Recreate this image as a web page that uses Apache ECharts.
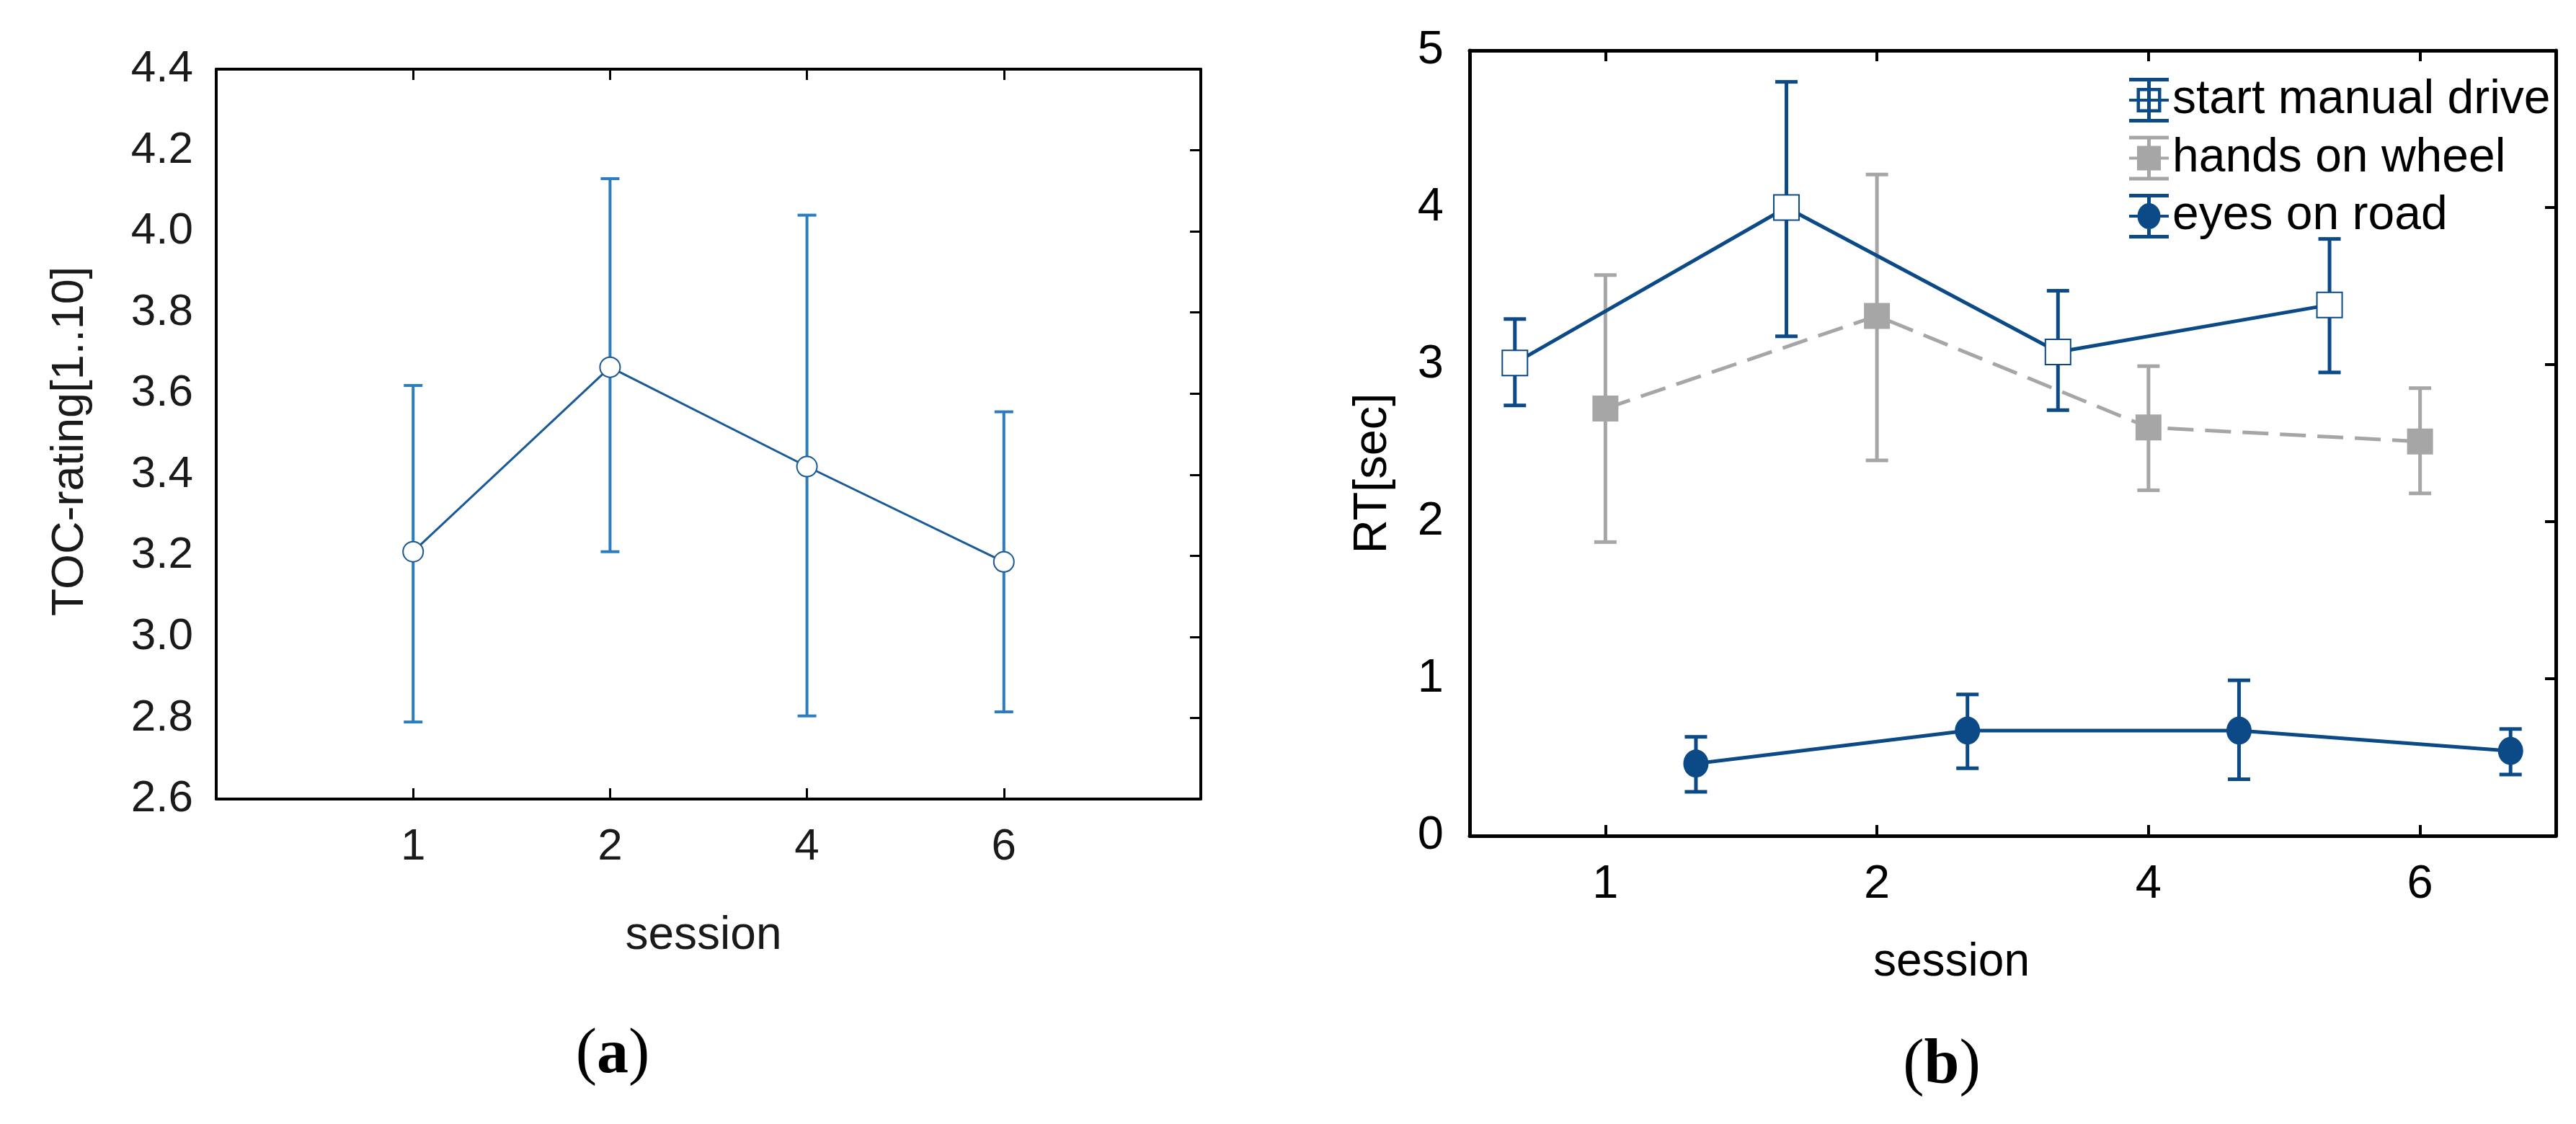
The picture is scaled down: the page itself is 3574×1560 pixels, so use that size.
<!DOCTYPE html>
<html>
<head>
<meta charset="utf-8">
<script src="https://cdn.jsdelivr.net/npm/echarts@6/dist/echarts.min.js"></script>
<style>
  html, body { margin: 0; padding: 0; background: #fff; }
  #main { width: 3574px; height: 1560px; }
</style>
</head>
<body>
<div id="main"></div>
<script>
// session categories (x axis tick labels)
var sessions = ['1', '2', '4', '6'];

// (a) TOC-rating: mean and interval ends
var tocMean = [3.21, 3.665, 3.42, 3.185];
var tocLow = [2.79, 3.21, 2.805, 2.815];
var tocHigh = [3.62, 4.13, 4.04, 3.555];

// (b) RT[sec]
var startMean = [3.01, 4.0, 3.08, 3.38];
var startLow = [2.74, 3.18, 2.71, 2.95];
var startHigh = [3.29, 4.8, 3.47, 3.8];

var handsMean = [2.72, 3.31, 2.6, 2.51];
var handsLow = [1.87, 2.39, 2.2, 2.18];
var handsHigh = [3.57, 4.21, 2.99, 2.85];

var eyesMean = [0.46, 0.67, 0.67, 0.54];
var eyesLow = [0.28, 0.43, 0.36, 0.39];
var eyesHigh = [0.63, 0.9, 0.99, 0.68];

var seriesNames = ['start manual drive', 'hands on wheel', 'eyes on road'];

var SANS = "'Liberation Sans', Arial, sans-serif";
var SERIF = "'Liberation Serif', 'Times New Roman', serif";
var BLUE = '#0b4a86';
var GREY = '#a6a6a6';
var LBLUE = '#2c7cc0';
var LDARK = '#1a5a97';

// points are shifted sideways within a session like the original plot
function points(means, offset) {
  return means.map(function (m, i) { return [i + 1 + offset, m]; });
}

function errorBars(name, axisIdx, lows, highs, offset, color, lw, capW) {
  return {
    name: name,
    type: 'custom',
    xAxisIndex: axisIdx[0],
    yAxisIndex: axisIdx[1],
    z: 3,
    encode: { x: 0, y: [1, 2] },
    data: lows.map(function (lo, i) { return [i + 1 + offset, lo, highs[i]]; }),
    renderItem: function (params, api) {
      var top = api.coord([api.value(0), api.value(2)]);
      var bot = api.coord([api.value(0), api.value(1)]);
      var hw = capW / 2;
      var st = { stroke: color, lineWidth: lw };
      return {
        type: 'group',
        children: [
          { type: 'line', shape: { x1: top[0], y1: top[1], x2: bot[0], y2: bot[1] }, style: st },
          { type: 'line', shape: { x1: top[0] - hw, y1: top[1], x2: top[0] + hw, y2: top[1] }, style: st },
          { type: 'line', shape: { x1: bot[0] - hw, y1: bot[1], x2: bot[0] + hw, y2: bot[1] }, style: st }
        ]
      };
    }
  };
}

function xAxes(grid, min, max, pos, lw, fs, margin, color, name) {
  var ax = {
    gridIndex: grid, type: 'value', min: min, max: max, position: pos,
    axisLine: { onZero: false, lineStyle: { color: '#000', width: lw } },
    axisTick: { inside: true, length: 15, customValues: [1, 2, 3, 4], lineStyle: { color: '#000', width: lw - 1 } },
    axisLabel: { show: false },
    splitLine: { show: false }
  };
  if (pos === 'bottom') {
    ax.axisLabel = {
      customValues: [1, 2, 3, 4], fontSize: fs, margin: margin, color: color, fontFamily: SANS,
      formatter: function (v) { return sessions[Math.round(v) - 1]; }
    };
    ax.name = name.text;
    ax.nameLocation = 'middle';
    ax.nameGap = name.gap;
    ax.nameTextStyle = { fontSize: name.size, color: color, fontFamily: SANS, padding: name.padding };
  }
  return ax;
}

function yAxes(grid, min, max, interval, pos, lw, fs, margin, color, fmt, name) {
  var ax = {
    gridIndex: grid, type: 'value', min: min, max: max, interval: interval, position: pos,
    axisLine: { show: true, onZero: false, lineStyle: { color: '#000', width: lw } },
    axisTick: { show: pos === 'right', inside: true, length: 15, lineStyle: { color: '#000', width: lw - 1 } },
    axisLabel: { show: false },
    splitLine: { show: false }
  };
  if (pos === 'left') {
    ax.axisLabel = { fontSize: fs, margin: margin, color: color, fontFamily: SANS, formatter: fmt };
    ax.name = name.text;
    ax.nameLocation = 'middle';
    ax.nameGap = name.gap;
    ax.nameTextStyle = { fontSize: name.size, color: color, fontFamily: SANS, padding: name.padding };
  }
  return ax;
}

// legend icons: error bar caps, stem, line piece and marker (55 x 62 box)
var capsAndStem = 'M0 0H55V5H0Z M0 57H55V62H0Z M25 0H30V62H25Z M0 29H55V33H0Z';
var iconStart = 'path://' + capsAndStem +
  ' M10.5 14H44.5V18.5H10.5Z M10.5 43.5H44.5V48H10.5Z M10.5 14H15V48H10.5Z M40 14H44.5V48H40Z';
var iconHands = 'path://' + capsAndStem + ' M11 14H44V48H11Z';
var iconEyes = 'path://' + capsAndStem + ' M11.5 31A16 18 0 1 1 43.5 31A16 18 0 1 1 11.5 31Z';

var chart = echarts.init(document.getElementById('main'));
chart.setOption({
  backgroundColor: '#fff',
  animation: false,
  grid: [
    { left: 300, top: 96, width: 1366, height: 1013 },
    { left: 2039, top: 70, width: 1507, height: 1090 }
  ],
  xAxis: [
    xAxes(0, 0, 5, 'bottom', 4, 62, 36, '#1a1a1a', { text: 'session', gap: 158, size: 64, padding: [0, 14, 0, 0] }),
    xAxes(0, 0, 5, 'top', 4),
    xAxes(1, 0.5, 4.5, 'bottom', 5, 65, 36, '#000', { text: 'session', gap: 144, size: 64, padding: [0, 170, 0, 0] }),
    xAxes(1, 0.5, 4.5, 'top', 5)
  ],
  yAxis: [
    yAxes(0, 2.6, 4.4, 0.2, 'left', 4, 62, 32, '#1a1a1a', function (v) { return v.toFixed(1); },
      { text: 'TOC-rating[1..10]', gap: 171, size: 63, padding: [0, 20, 0, 0] }),
    yAxes(0, 2.6, 4.4, 0.2, 'right', 4),
    yAxes(1, 0, 5, 1, 'left', 5, 65, 36, '#000', function (v) { return String(v); },
      { text: 'RT[sec]', gap: 101, size: 65, padding: [0, 84, 0, 0] }),
    yAxes(1, 0, 5, 1, 'right', 5)
  ],
  legend: {
    orient: 'vertical',
    left: 2954,
    top: 106,
    padding: 0,
    itemWidth: 55,
    itemHeight: 62,
    itemGap: 14.5,
    selectedMode: false,
    textStyle: { fontSize: 66, fontFamily: SANS, color: '#000', lineHeight: 62 },
    data: [
      { name: seriesNames[0], icon: iconStart, itemStyle: { color: BLUE, borderWidth: 0 } },
      { name: seriesNames[1], icon: iconHands, itemStyle: { color: GREY, borderWidth: 0 } },
      { name: seriesNames[2], icon: iconEyes, itemStyle: { color: BLUE, borderWidth: 0 } }
    ]
  },
  graphic: [
    {
      type: 'text', x: 850, y: 1465,
      style: {
        text: '{p|(}{b|a}{p|)}', align: 'center', verticalAlign: 'middle',
        rich: {
          p: { fontFamily: SERIF, fontSize: 88, fill: '#000' },
          b: { fontFamily: SERIF, fontSize: 88, fontWeight: 'bold', fill: '#000' }
        }
      }
    },
    {
      type: 'text', x: 2694, y: 1480,
      style: {
        text: '{p|(}{b|b}{p|)}', align: 'center', verticalAlign: 'middle',
        rich: {
          p: { fontFamily: SERIF, fontSize: 88, fill: '#000' },
          b: { fontFamily: SERIF, fontSize: 88, fontWeight: 'bold', fill: '#000' }
        }
      }
    }
  ],
  series: [
    // (a)
    {
      name: 'TOC-rating',
      type: 'line',
      xAxisIndex: 0, yAxisIndex: 0,
      data: points(tocMean, 0),
      symbol: 'emptyCircle',
      symbolSize: 28,
      itemStyle: { color: LDARK, borderWidth: 3 },
      lineStyle: { color: LDARK, width: 3 }
    },
    errorBars('TOC-rating error', [0, 0], tocLow, tocHigh, 0, LBLUE, 4, 26),
    // (b)
    {
      name: seriesNames[0],
      type: 'line',
      xAxisIndex: 2, yAxisIndex: 2,
      data: points(startMean, -1 / 3),
      symbol: 'emptyRect',
      symbolSize: 35,
      itemStyle: { color: BLUE, borderWidth: 5 },
      lineStyle: { color: BLUE, width: 5 }
    },
    {
      name: seriesNames[1],
      type: 'line',
      xAxisIndex: 2, yAxisIndex: 2,
      data: points(handsMean, 0),
      symbol: 'rect',
      symbolSize: 36,
      itemStyle: { color: GREY },
      lineStyle: { color: GREY, width: 5, type: [36, 16] }
    },
    {
      name: seriesNames[2],
      type: 'line',
      xAxisIndex: 2, yAxisIndex: 2,
      data: points(eyesMean, 1 / 3),
      symbol: 'circle',
      symbolSize: [35, 39],
      itemStyle: { color: BLUE },
      lineStyle: { color: BLUE, width: 5 }
    },
    errorBars('start error', [2, 2], startLow, startHigh, -1 / 3, BLUE, 5, 31),
    errorBars('hands error', [2, 2], handsLow, handsHigh, 0, GREY, 5, 31),
    errorBars('eyes error', [2, 2], eyesLow, eyesHigh, 1 / 3, BLUE, 5, 31)
  ]
});
</script>
</body>
</html>
